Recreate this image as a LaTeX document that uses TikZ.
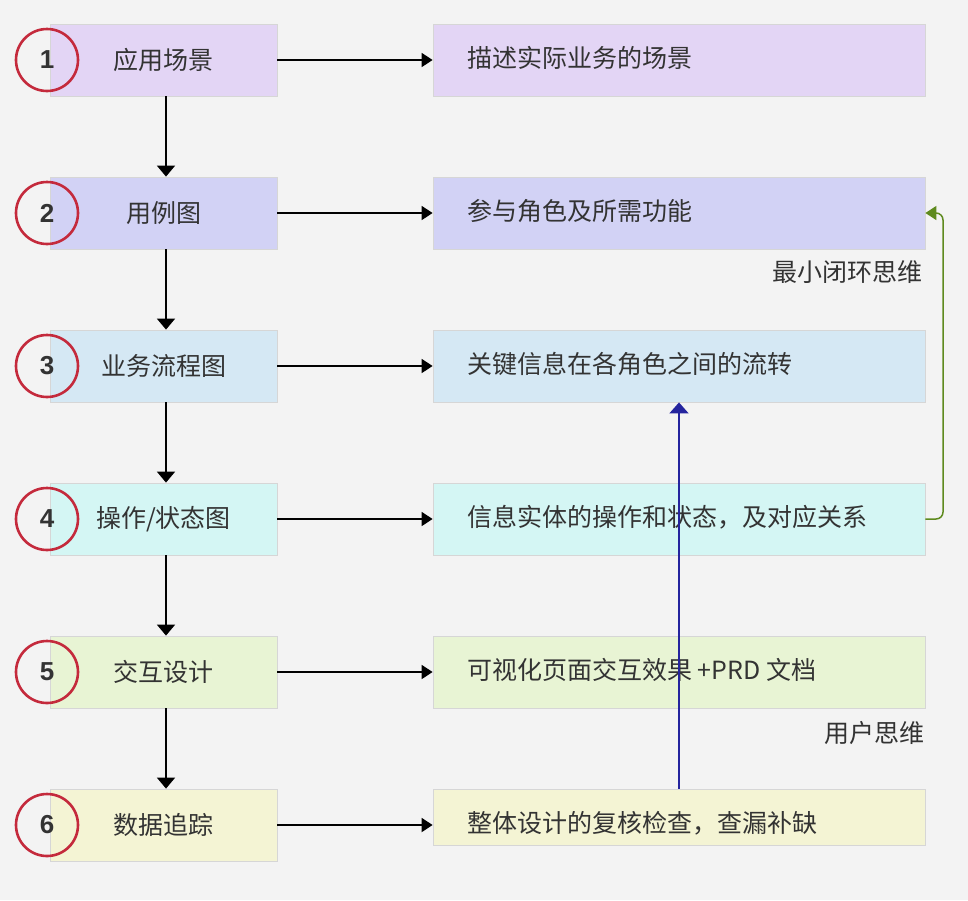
\documentclass[tikz,border=0pt]{standalone}
\usepackage{fontspec}
\newfontfamily\cjk{Noto Sans CJK SC}
\newfontfamily\numfont{Liberation Sans}
\usetikzlibrary{arrows.meta}
\definecolor{bgc}{HTML}{F3F3F3}
\definecolor{cA}{HTML}{E3D5F5}
\definecolor{cB}{HTML}{D2D2F5}
\definecolor{cC}{HTML}{D5E8F4}
\definecolor{cD}{HTML}{D4F6F4}
\definecolor{cE}{HTML}{E8F4D4}
\definecolor{cF}{HTML}{F4F4D4}
\definecolor{txt}{HTML}{333333}
\definecolor{ringred}{HTML}{C42A3C}
\definecolor{edgegray}{HTML}{D6D6D6}
\definecolor{loopgreen}{HTML}{5E8A1E}
\definecolor{upblue}{HTML}{24249E}
\begin{document}
\begin{tikzpicture}[x=1pt,y=-1pt,
  lbox/.style={draw=edgegray, line width=0.8pt, minimum width=227pt, minimum height=72pt, inner sep=0pt,
     font=\cjk\fontsize{25}{30}\selectfont, text=txt},
  rbox/.style={draw=edgegray, line width=0.8pt, minimum width=492pt, minimum height=72pt, inner sep=0pt},
  rtext/.style={anchor=west, inner sep=0pt, font=\cjk\fontsize{25}{30}\selectfont, text=txt},
  ring/.style={circle, draw=ringred, line width=2.6pt, minimum size=62pt, inner sep=0pt,
     font=\numfont\bfseries\fontsize{26}{30}\selectfont, text=txt},
  harrow/.style={line width=1.8pt, -{Triangle[length=11pt,width=14pt]}},
  varrow/.style={line width=1.8pt, -{Triangle[length=11pt,width=18pt]}},
  note/.style={anchor=east, inner sep=0pt, font=\cjk\fontsize{25}{30}\selectfont, text=txt}
]
\fill[bgc] (0,0) rectangle (968,900);
\useasboundingbox (0,0) rectangle (968,900);

% left boxes
\node[lbox, fill=cA] (l1) at (163.5,60) {应用场景};
\node[lbox, fill=cB] (l2) at (163.5,213) {用例图};
\node[lbox, fill=cC] (l3) at (163.5,366) {业务流程图};
\node[lbox, fill=cD] (l4) at (163.5,519) {操作/状态图};
\node[lbox, fill=cE] (l5) at (163.5,672) {交互设计};
\node[lbox, fill=cF] (l6) at (163.5,825) {数据追踪};

% right boxes
\node[rbox, fill=cA] (r1) at (679,60) {};
\node[rbox, fill=cB] (r2) at (679,213) {};
\node[rbox, fill=cC] (r3) at (679,366) {};
\node[rbox, fill=cD] (r4) at (679,519) {};
\node[rbox, fill=cE] (r5) at (679,672) {};
\node[rbox, fill=cF, minimum height=56pt] (r6) at (679,817) {};

\node[rtext] (t1) at (467,58) {描述实际业务的场景};
\node[rtext] (t2) at (467,211) {参与角色及所需功能};
\node[rtext] (t3) at (467,364) {关键信息在各角色之间的流转};
\node[rtext] (t4) at (467,517) {信息实体的操作和状态，及对应关系};
\node[rtext] (t5) at (467,670) {可视化页面交互效果 +PRD 文档};
\node[rtext] (t6) at (467,823) {整体设计的复核检查，查漏补缺};

% circles
\node[ring] (c1) at (47,60) {1};
\node[ring] (c2) at (47,213) {2};
\node[ring] (c3) at (47,366) {3};
\node[ring] (c4) at (47,519) {4};
\node[ring] (c5) at (47,672) {5};
\node[ring] (c6) at (47,825) {6};

% horizontal arrows
\foreach \i in {1,...,6} {
  \draw[harrow] (l\i.east) -- (l\i.east -| r\i.west);
}
% vertical arrows
\draw[varrow] (l1.south -| 166,0) -- (l2.north -| 166,0);
\draw[varrow] (l2.south -| 166,0) -- (l3.north -| 166,0);
\draw[varrow] (l3.south -| 166,0) -- (l4.north -| 166,0);
\draw[varrow] (l4.south -| 166,0) -- (l5.north -| 166,0);
\draw[varrow] (l5.south -| 166,0) -- (l6.north -| 166,0);

% loop arrow (green)
\coordinate (gc) at (943,519);
\draw[loopgreen, line width=1.5pt, rounded corners=7pt, -{Triangle[length=11pt,width=14pt]}]
  (r4.east) -- (gc) |- (r2.east);

% blue up arrow
\draw[upblue, line width=1.6pt, -{Triangle[length=11pt,width=19pt]}] (r6.north) -- (r3.south);

% notes
\node[note] (n1) at (923,272) {最小闭环思维};
\node[note] (n2) at (925,733) {用户思维};
\end{tikzpicture}
\end{document}
